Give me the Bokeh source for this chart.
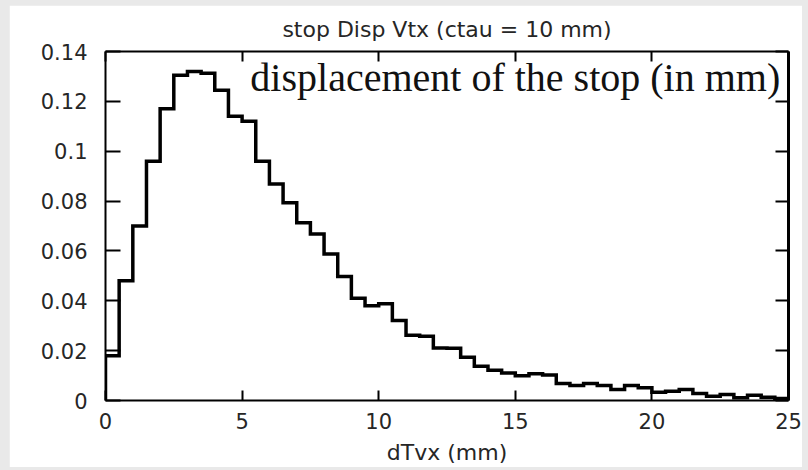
from bokeh.plotting import figure
from bokeh.models import Range1d, LinearAxis, FixedTicker, CustomJSTickFormatter
from bokeh.layouts import column
from bokeh.core.properties import value
from bokeh.embed import file_html
from bokeh.resources import INLINE

# Normalised histogram of the stop displacement, 0.5 mm bins from 0 to 25 mm
bin_width = 0.5
x_min, x_max = 0.0, 25.0
fractions = [
    0.0180, 0.0480, 0.0700, 0.0960, 0.1170, 0.1305, 0.1320, 0.1313, 0.1245, 0.1140,
    0.1120, 0.0960, 0.0868, 0.0793, 0.0713, 0.0668, 0.0588, 0.0497, 0.0410, 0.0380,
    0.0388, 0.0321, 0.0262, 0.0258, 0.0211, 0.0210, 0.0173, 0.0137, 0.0121, 0.0110,
    0.0099, 0.0107, 0.0102, 0.0068, 0.0060, 0.0068, 0.0060, 0.0044, 0.0060, 0.0051,
    0.0033, 0.0037, 0.0044, 0.0028, 0.0017, 0.0024, 0.0011, 0.0021, 0.0013, 0.0008,
]
x_ticks = [0, 5, 10, 15, 20, 25]
y_ticks = [0.0, 0.02, 0.04, 0.06, 0.08, 0.10, 0.12, 0.14]
y_max = 0.14

title_text = "stop Disp Vtx (ctau = 10 mm)"
x_label = "dTvx (mm)"
note_text = "displacement of the stop (in mm)"

# Step outline of the histogram, closed down to zero at both ends
step_x = [x_min]
step_y = [0.0]
for i, f in enumerate(fractions):
    lo = x_min + i * bin_width
    step_x += [lo, lo + bin_width]
    step_y += [f, f]
step_x.append(x_min + len(fractions) * bin_width)
step_y.append(0.0)

SANS = "DejaVu Sans"
TXT = "#262626"

p = figure(
    width=793, height=462,
    x_range=Range1d(x_min, x_max), y_range=Range1d(0, y_max),
    output_backend="svg", toolbar_location=None,
    min_border_left=96, min_border_right=14, min_border_top=46, min_border_bottom=66,
    background_fill_color="white", border_fill_color="white",
)
p.outline_line_color = None
p.grid.visible = False

p.title.text = title_text
p.title.align = "center"
p.title.vertical_align = "top"
p.title.text_font = SANS
p.title.text_font_size = "22px"
p.title.text_font_style = "normal"
p.title.text_color = TXT
p.title.offset = -10
p.title.standoff = 16

blank = CustomJSTickFormatter(code="return '';")
ytick_fmt = CustomJSTickFormatter(
    code="return tick.toFixed(2).replace(/0+$/, '').replace(/\\.$/, '');"
)


def style_axis(ax, ticks, tick_in, line_w, label_px="21px"):
    ax.ticker = FixedTicker(ticks=ticks)
    ax.minor_tick_line_color = None
    ax.major_tick_in = tick_in
    ax.major_tick_out = 0
    ax.major_tick_line_width = 2
    ax.major_tick_line_color = "black"
    ax.axis_line_width = line_w
    ax.axis_line_color = "black"
    ax.major_label_text_font = SANS
    ax.major_label_text_font_size = label_px
    ax.major_label_text_color = TXT


# bottom axis
xa = p.xaxis[0]
style_axis(xa, x_ticks, 10, 2)
xa.major_label_standoff = 12
xa.axis_label = x_label
xa.axis_label_text_font = SANS
xa.axis_label_text_font_size = "22px"
xa.axis_label_text_font_style = "normal"
xa.axis_label_text_color = TXT
xa.axis_label_text_line_height = 0.7
xa.axis_label_standoff = 8

# left axis
ya = p.yaxis[0]
style_axis(ya, y_ticks, 15, 2)
ya.formatter = ytick_fmt
ya.major_label_standoff = 18

# top and right frame axes without labels
top = LinearAxis()
style_axis(top, x_ticks, 10, 2, label_px="1px")
top.formatter = blank
top.major_label_standoff = 0
p.add_layout(top, "above")

right = LinearAxis()
style_axis(right, y_ticks, 13, 3, label_px="1px")
right.formatter = blank
right.major_label_standoff = 0
p.add_layout(right, "right")

# white label box in the upper right corner
p.quad(left=[5.12], right=[24.95], bottom=[0.1212], top=[0.1392],
       fill_color="white", line_color=None)
p.text(x=[15.0], y=[0.1296], text=[note_text],
       text_font=value("Liberation Serif"), text_font_size="40px",
       text_align="center", text_baseline="middle", text_color="#111111")

# histogram outline
p.line(step_x, step_y, line_color="black", line_width=3.5, line_join="miter")

page = column(p, styles={"background-color": "#e9e9e9", "padding": "5px 6px 3px 9px"})

open("out.html", "w").write(file_html(page, INLINE))
